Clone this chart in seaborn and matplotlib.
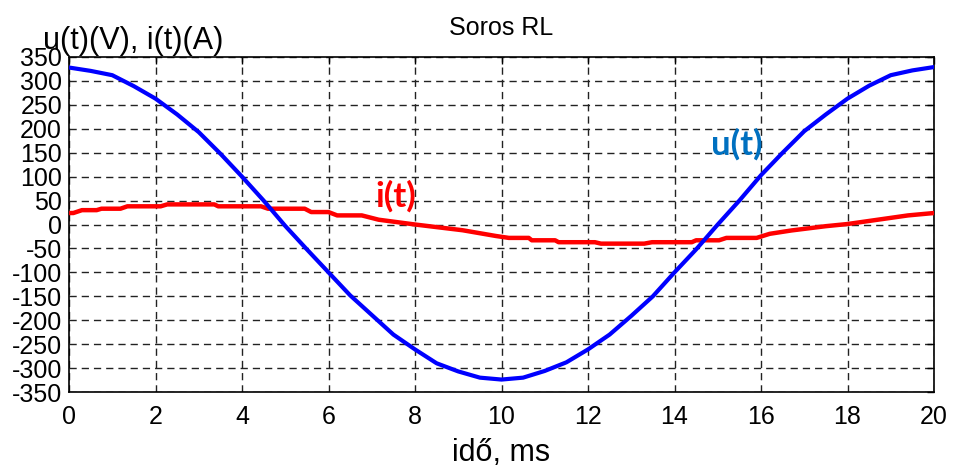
import matplotlib
matplotlib.use("Agg")
import matplotlib.pyplot as plt
import seaborn as sns
import pandas as pd

# Supply voltage u(t), sampled every 0.5 ms
t_u = [0.0, 0.5, 1.0, 1.5, 2.0, 2.5, 3.0, 3.5, 4.0, 4.5, 5.0, 5.5, 6.0, 6.5,
       7.0, 7.5, 8.0, 8.5, 9.0, 9.5, 10.0, 10.5, 11.0, 11.5, 12.0, 12.5,
       13.0, 13.5, 14.0, 14.5, 15.0, 15.5, 16.0, 16.5, 17.0, 17.5, 18.0,
       18.5, 19.0, 19.5, 20.0]
u_vals = [328, 321, 312, 289, 263, 230, 193, 148, 100, 50, -3, -52, -100,
          -148, -189, -230, -261, -290, -307, -320, -324, -320, -306, -288,
          -261, -230, -191, -150, -100, -52, 0, 50, 103, 150, 195, 230, 263,
          290, 312, 322, 329]

# Line current i(t) (stepped, quantised measurement)
t_i = [0.0, 0.1, 0.3, 0.64, 0.75, 1.19, 1.35, 2.12, 2.27, 3.36, 3.45, 4.44,
       4.6, 5.45, 5.6, 6.0, 6.2, 6.77, 7.16, 8.0, 9.1, 9.87, 10.17, 10.63,
       10.7, 11.24, 11.32, 12.16, 12.3, 13.3, 13.48, 14.4, 14.5, 15.03,
       15.2, 15.9, 16.2, 16.7, 17.5, 18.0, 18.7, 19.4, 20.0]
i_vals = [24, 24, 30, 30, 33, 33, 38, 38, 42, 42, 38, 38, 33, 33, 26, 26,
          19, 19, 10, 0, -12, -24, -28, -28, -33, -33, -37, -37, -40, -40,
          -37, -37, -33, -33, -28, -28, -19.5, -12.5, -3.5, 1, 10, 19, 24]

x_ticks = list(range(0, 21, 2))
y_ticks = list(range(-350, 351, 50))

sns.set_theme(style="white")
plt.rcParams['font.family'] = ['Liberation Sans', 'DejaVu Sans']
plt.rcParams.update({
    "text.color": "black",
    "axes.labelcolor": "black",
    "axes.titlecolor": "black",
    "xtick.color": "black",
    "ytick.color": "black",
})

df_u = pd.DataFrame({"t": t_u, "u": u_vals})
df_i = pd.DataFrame({"t": t_i, "i": i_vals})

W, H = 954, 470
fig = plt.figure(figsize=(W / 100, H / 100), dpi=100)
ax = fig.add_axes([69 / W, 1 - 392 / H, (934 - 69) / W, (392 - 57) / H])

sns.lineplot(data=df_i, x="t", y="i", ax=ax, color="#FF0000", linewidth=3.2,
             zorder=3)
sns.lineplot(data=df_u, x="t", y="u", ax=ax, color="#0000FF", linewidth=3.0,
             zorder=4)

ax.set_xlim(0, 20)
ax.set_ylim(-350, 350)
ax.set_xticks(x_ticks)
ax.set_yticks(y_ticks)
ax.set_xticklabels([str(v) for v in x_ticks])
ax.set_yticklabels([str(v) for v in y_ticks])

ax.grid(True, color="#222222", linestyle=(0, (5.2, 3.6)), linewidth=1.0)
ax.tick_params(axis="both", direction="in", top=True, right=True, length=5,
               width=1, colors="black", labelsize=18)
ax.tick_params(axis="y", pad=5)
ax.tick_params(axis="x", pad=9)
for s in ax.spines.values():
    s.set_color("black")
    s.set_linewidth(1.2)

ax.set_ylabel("")
ax.set_xlabel("idő, ms", fontsize=22, labelpad=7, color="black")
ax.set_title("Soros RL", fontsize=18, pad=16, color="black")

fig.text(43 / W, 1 - 49 / H, "u(t)(V), i(t)(A)", fontsize=22,
         ha="left", va="baseline", color="black")

ax.text(7.56, 58, "i(t)", color="#FF0000", fontsize=25, fontweight="bold",
        family=["Lato", "DejaVu Sans"], ha="center", va="center", zorder=5)
ax.text(15.45, 168, "u(t)", color="#0070C0", fontsize=25, fontweight="bold",
        family=["Lato", "DejaVu Sans"], ha="center", va="center", zorder=5)

fig.savefig("out.png", dpi=100, facecolor="white")
